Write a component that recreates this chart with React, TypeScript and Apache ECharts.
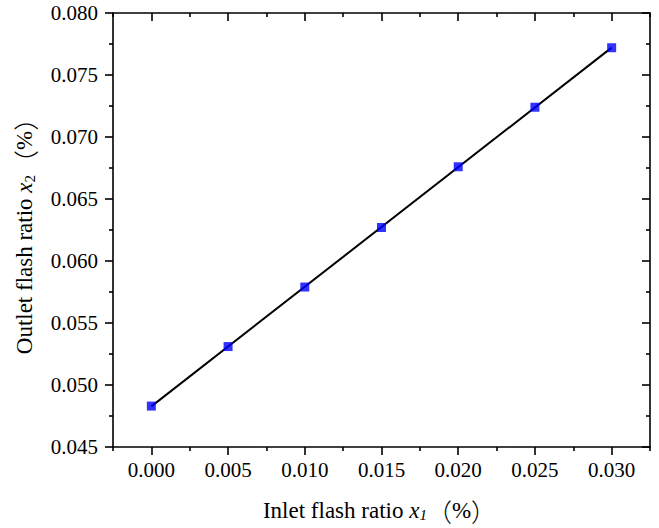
import React, { useEffect, useRef } from "react";
import * as echarts from "echarts";

const inletX: number[] = [0.0, 0.005, 0.01, 0.015, 0.02, 0.025, 0.03];
const outletY: number[] = [0.0483, 0.0531, 0.0579, 0.0627, 0.0676, 0.0724, 0.0772];
const xMajorTicks: number[] = [0.0, 0.005, 0.01, 0.015, 0.02, 0.025, 0.03];
const xMinorTicks: number[] = [-0.0025, 0.0025, 0.0075, 0.0125, 0.0175, 0.0225, 0.0275, 0.0325];
const xRange: number[] = [-0.0025, 0.0325];
const yRange: number[] = [0.045, 0.08];
const yStep = 0.005;

const FONT = "'Liberation Serif', 'Times New Roman', 'Noto Sans CJK SC', serif";
const CJK = "'Noto Sans CJK SC', sans-serif";

function fitLine(xs: number[], ys: number[]) {
  const n = xs.length;
  const mx = xs.reduce((a, b) => a + b, 0) / n;
  const my = ys.reduce((a, b) => a + b, 0) / n;
  let sxy = 0, sxx = 0;
  for (let i = 0; i < n; i++) {
    sxy += (xs[i] - mx) * (ys[i] - my);
    sxx += (xs[i] - mx) * (xs[i] - mx);
  }
  const b = sxy / sxx;
  const a = my - b * mx;
  const x0 = Math.min(...xs), x1 = Math.max(...xs);
  return [[x0, a + b * x0], [x1, a + b * x1]];
}

export default function App() {
  const ref = useRef<HTMLDivElement>(null);
  useEffect(() => {
    if (!ref.current) return;
    const chart = echarts.init(ref.current, undefined, { renderer: "svg" });
    const lineStyle = { color: "#000", width: 1.6 };
    const rich = {
      t: { fontFamily: FONT, fontSize: 23, color: "#000" },
      i: { fontFamily: FONT, fontSize: 23, fontStyle: "italic", color: "#000" },
      s: { fontFamily: FONT, fontSize: 15, fontStyle: "italic", color: "#000", verticalAlign: "bottom", padding: [9, 0, 0, 0] },
      r: { fontFamily: FONT, fontSize: 15, color: "#000", verticalAlign: "bottom", padding: [9, 0, 0, 0] },
      c: { fontFamily: CJK, fontSize: 25, fontWeight: 300, color: "#000" },
      p: { fontFamily: FONT, fontSize: 23, color: "#000" },
    };
    const baseX = {
      type: "value",
      min: xRange[0],
      max: xRange[1],
      splitLine: { show: false },
    };
    chart.setOption({
      animation: false,
      grid: { left: 113, top: 13, right: 9, bottom: 81, containLabel: false },
      xAxis: [
        {
          ...baseX,
          position: "bottom",
          axisLine: { show: true, onZero: false, lineStyle },
          axisTick: { show: true, inside: false, length: 8, lineStyle, customValues: xMajorTicks },
          axisLabel: {
            show: true,
            customValues: xMajorTicks,
            margin: 13,
            fontFamily: FONT,
            fontSize: 21,
            color: "#000",
            formatter: (v: number) => v.toFixed(3),
          },
          name: "{t|Inlet flash ratio }{i|x}{s|1}{c|（}{p|%}{c|）}",
          nameLocation: "middle",
          nameGap: 51,
          nameTextStyle: { rich, padding: [0, 4, 0, 0] },
        },
        {
          ...baseX,
          position: "bottom",
          axisLine: { show: false, onZero: false },
          axisTick: { show: true, inside: false, length: 4, lineStyle, customValues: xMinorTicks },
          axisLabel: { show: false },
        },
        {
          ...baseX,
          position: "top",
          axisLine: { show: true, onZero: false, lineStyle },
          axisTick: { show: true, inside: true, length: 8, lineStyle, customValues: xMajorTicks },
          axisLabel: { show: false },
        },
        {
          ...baseX,
          position: "top",
          axisLine: { show: false, onZero: false },
          axisTick: { show: true, inside: true, length: 4, lineStyle, customValues: xMinorTicks },
          axisLabel: { show: false },
        },
      ],
      yAxis: [
        {
          type: "value",
          position: "left",
          min: yRange[0],
          max: yRange[1],
          interval: yStep,
          splitLine: { show: false },
          axisLine: { show: true, onZero: false, lineStyle },
          axisTick: { show: true, inside: false, length: 8, lineStyle },
          minorTick: { show: true, splitNumber: 2, length: 4, lineStyle },
          minorSplitLine: { show: false },
          axisLabel: {
            margin: 15,
            fontFamily: FONT,
            fontSize: 21,
            color: "#000",
            formatter: (v: number) => v.toFixed(3),
          },
          name: "{t|Outlet flash ratio }{i|x}{r|2}{c|（}{p|%}{c|）}",
          nameLocation: "middle",
          nameGap: 76,
          nameRotate: 90,
          nameTextStyle: { rich },
        },
        {
          type: "value",
          position: "right",
          min: yRange[0],
          max: yRange[1],
          interval: yStep,
          splitLine: { show: false },
          axisLine: { show: true, onZero: false, lineStyle },
          axisTick: { show: true, inside: true, length: 8, lineStyle },
          minorTick: { show: true, splitNumber: 2, length: 4, lineStyle },
          axisLabel: { show: false },
        },
      ],
      series: [
        {
          type: "line",
          xAxisIndex: 0,
          yAxisIndex: 0,
          data: fitLine(inletX, outletY),
          symbol: "none",
          lineStyle: { color: "#000", width: 2 },
          z: 2,
        },
        {
          type: "scatter",
          xAxisIndex: 0,
          yAxisIndex: 0,
          data: inletX.map((x, i) => [x, outletY[i]]),
          symbol: "rect",
          symbolSize: 9,
          itemStyle: { color: "#0000ff" },
          z: 3,
        },
      ],
    });
    return () => chart.dispose();
  }, []);
  return (
    <div
      ref={ref}
      style={{ position: "absolute", left: 0, top: 0, width: 659, height: 528, background: "#fff" }}
    />
  );
}
